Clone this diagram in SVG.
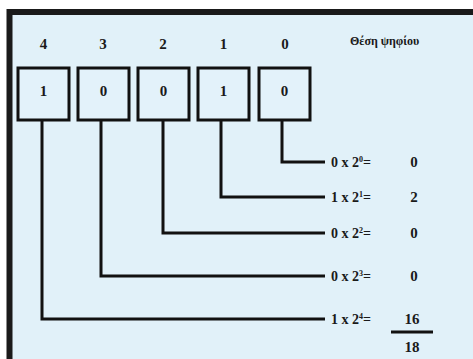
<svg xmlns="http://www.w3.org/2000/svg" width="473" height="359" viewBox="0 0 473 359">
<style>
text{font-family:"Liberation Serif","Times New Roman",serif;font-weight:bold;fill:#1a1a1a}
.n{font-size:15px;text-anchor:middle}
.lbl{font-size:14px}
.sup{font-size:8px}
.box{fill:#e3f2fa;stroke:#111;stroke-width:3}
.wire{fill:none;stroke:#111;stroke-width:3}
</style>
<rect x="0" y="0" width="473" height="359" fill="#ffffff"/>
<rect x="7" y="9" width="466" height="350" fill="#e1f1f9"/>
<path d="M9.5 359 V12 H473" fill="none" stroke="#1a1a1a" stroke-width="6"/>
<g id="positions">
<text class="n" x="43.5" y="49">4</text>
<text class="n" x="103" y="49">3</text>
<text class="n" x="163" y="49">2</text>
<text class="n" x="223.5" y="49">1</text>
<text class="n" x="285" y="49">0</text>
<text x="350" y="45" style="font-size:12px">Θέση ψηφίου</text>
</g>
<g id="bit4"><rect class="box" x="18" y="68" width="51" height="52"/><text class="n" x="43.5" y="96">1</text></g>
<g id="bit3"><rect class="box" x="78" y="68" width="51" height="52"/><text class="n" x="103.5" y="96">0</text></g>
<g id="bit2"><rect class="box" x="138" y="68" width="51" height="52"/><text class="n" x="163.5" y="96">0</text></g>
<g id="bit1"><rect class="box" x="198" y="68" width="51" height="52"/><text class="n" x="223.5" y="96">1</text></g>
<g id="bit0"><rect class="box" x="259" y="68" width="51" height="52"/><text class="n" x="284.5" y="96">0</text></g>
<g id="connectors">
<path class="wire" d="M282 120 V162 H325"/>
<path class="wire" d="M221 120 V197 H325"/>
<path class="wire" d="M163 120 V233 H325"/>
<path class="wire" d="M101 120 V276 H325"/>
<path class="wire" d="M42 120 V319 H325"/>
</g>
<g id="terms">
<text class="lbl" x="331" y="167">0 x 2<tspan class="sup" dy="-5">0</tspan><tspan dy="5">=</tspan></text>
<text class="lbl" x="331" y="202">1 x 2<tspan class="sup" dy="-5">1</tspan><tspan dy="5">=</tspan></text>
<text class="lbl" x="331" y="238">0 x 2<tspan class="sup" dy="-5">2</tspan><tspan dy="5">=</tspan></text>
<text class="lbl" x="331" y="281">0 x 2<tspan class="sup" dy="-5">3</tspan><tspan dy="5">=</tspan></text>
<text class="lbl" x="331" y="324">1 x 2<tspan class="sup" dy="-5">4</tspan><tspan dy="5">=</tspan></text>
</g>
<g id="values">
<text class="n" x="414" y="167">0</text>
<text class="n" x="414" y="202">2</text>
<text class="n" x="414" y="238">0</text>
<text class="n" x="414" y="281">0</text>
<text class="n" x="412" y="324">16</text>
<line x1="391" y1="332" x2="433" y2="332" stroke="#111" stroke-width="3"/>
<text class="n" x="412" y="352">18</text>
</g>
</svg>
